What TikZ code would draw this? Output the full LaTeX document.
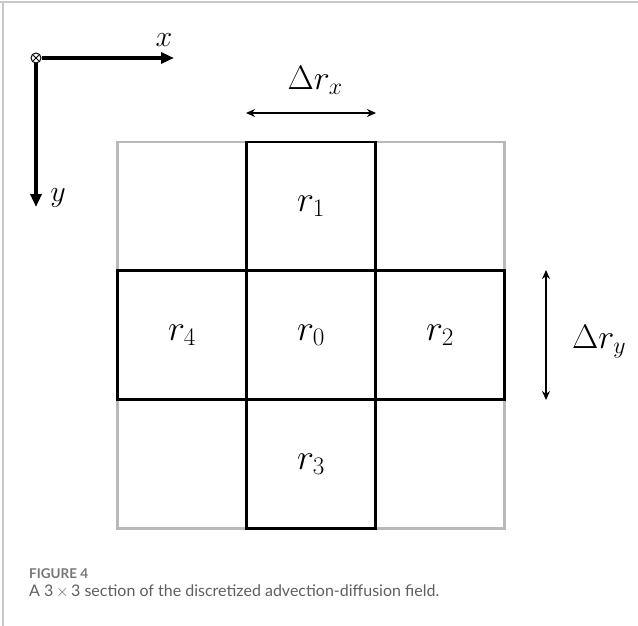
\RequirePackage{fix-cm}
\documentclass[tikz,border=0pt]{standalone}
\usepackage{fontspec}
\setsansfont{Lato}
\usetikzlibrary{arrows.meta,calc}
\definecolor{framegray}{RGB}{200,200,200}
\definecolor{cellgray}{RGB}{185,185,185}
\definecolor{capgray}{RGB}{95,95,95}
\tikzset{
  graycell/.style={draw=cellgray,line width=2.2pt,minimum size=129pt,inner sep=0pt},
  blackcell/.style={draw=black,line width=2.6pt,minimum size=129pt,inner sep=0pt,font=\fontsize{36}{38}\selectfont},
  axisarrow/.style={line width=3.6pt,-{Triangle[length=13pt,width=11pt]}},
  dimarrow/.style={line width=1.8pt,{Stealth[length=9pt,width=8pt]}-{Stealth[length=9pt,width=8pt]}},
  mathlabel/.style={inner sep=0pt,font=\fontsize{34}{36}\selectfont},
  axislabel/.style={inner sep=0pt,font=\fontsize{30}{32}\selectfont},
}
\begin{document}
\begin{tikzpicture}[x=1pt,y=-1pt]
\useasboundingbox (0,0) rectangle (638,626);
% frame
\draw[framegray,line width=1.6pt] (0,2) -- (638,2);
\draw[framegray,line width=1.6pt] (3,2) -- (3,626);
% gray corner cells
\node[graycell] (c11) at (182,206.5) {};
\node[graycell] (c13) at (440,206.5) {};
\node[graycell] (c31) at (182,464) {};
\node[graycell] (c33) at (440,464) {};
% black cross cells
\node[blackcell] (r1) at (311,206.5) {$r_1$};
\node[blackcell] (r4) at (182,335) {$r_4$};
\node[blackcell] (r0) at (311,335) {$r_0$};
\node[blackcell] (r2) at (440,335) {$r_2$};
\node[blackcell] (r3) at (311,464) {$r_3$};
% axes
\node[circle,draw,line width=1pt,minimum size=10pt,inner sep=0pt,fill=white] (o) at (36,58) {};
\draw[line width=1pt] ($(o.north west)!0.15!(o.south east)$) -- ($(o.south east)!0.15!(o.north west)$);
\draw[line width=1pt] ($(o.north east)!0.15!(o.south west)$) -- ($(o.south west)!0.15!(o.north east)$);
\coordinate (xend) at (174,58);
\coordinate (yend) at (36,207);
\draw[axisarrow] (o.east) -- (xend);
\draw[axisarrow] (o.south) -- (yend);
\node[axislabel] (xl) at (164,40) {$x$};
\node[axislabel] (yl) at (58,198) {$y$};
% dimension arrows
\coordinate (dxa) at (246,113);
\coordinate (dxb) at (376,113);
\draw[dimarrow] (dxa) -- (dxb);
\node[mathlabel] (dx) at (315,80) {$\Delta r_x$};
\coordinate (dya) at (546,270);
\coordinate (dyb) at (546,400);
\draw[dimarrow] (dya) -- (dyb);
\node[mathlabel] (dy) at (599,342) {$\Delta r_y$};
% caption
\node[anchor=base west,inner sep=0pt,text=capgray!85,font=\sffamily\bfseries\fontsize{13.5}{15}\selectfont] (fig) at (29,578) {FIGURE 4};
\node[anchor=base west,inner sep=0pt,text=capgray,font=\sffamily\fontsize{16}{18}\selectfont] (cap) at (29,596) {A 3\,$\times$\,3 section of the discretized advection-diffusion field.};
\end{tikzpicture}
\end{document}
